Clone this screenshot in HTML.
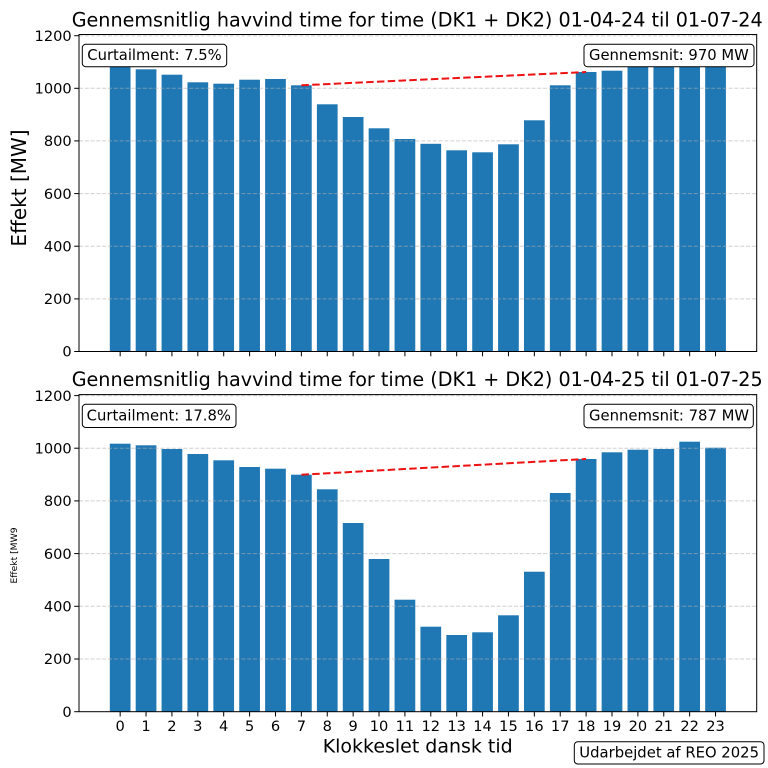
<!DOCTYPE html>
<html><head><meta charset="utf-8"><style>
html,body{margin:0;padding:0;background:#fff;}
svg{display:block;}
text{font-family:"DejaVu Sans","Liberation Sans",sans-serif;fill:#000;}
</style></head><body>
<svg width="768" height="768" viewBox="0 0 768 768" xmlns="http://www.w3.org/2000/svg">
<rect x="0" y="0" width="768" height="768" fill="#fff"/>

<!-- ===== TOP AXES ===== -->
<g fill="#1f77b4">
<rect x="109.81" y="60" width="20.71" height="291.5"/>
<rect x="135.70" y="69.3" width="20.71" height="282.2"/>
<rect x="161.58" y="74.7" width="20.71" height="276.8"/>
<rect x="187.47" y="82.3" width="20.71" height="269.2"/>
<rect x="213.35" y="83.7" width="20.71" height="267.8"/>
<rect x="239.24" y="79.7" width="20.71" height="271.8"/>
<rect x="265.13" y="79.0" width="20.71" height="272.5"/>
<rect x="291.01" y="85.3" width="20.71" height="266.2"/>
<rect x="316.90" y="104.3" width="20.71" height="247.2"/>
<rect x="342.78" y="117.0" width="20.71" height="234.5"/>
<rect x="368.67" y="128.3" width="20.71" height="223.2"/>
<rect x="394.56" y="139.0" width="20.71" height="212.5"/>
<rect x="420.44" y="143.8" width="20.71" height="207.7"/>
<rect x="446.33" y="150.3" width="20.71" height="201.2"/>
<rect x="472.21" y="152.3" width="20.71" height="199.2"/>
<rect x="498.10" y="144.3" width="20.71" height="207.2"/>
<rect x="523.99" y="120.3" width="20.71" height="231.2"/>
<rect x="549.87" y="85.3" width="20.71" height="266.2"/>
<rect x="575.76" y="72.0" width="20.71" height="279.5"/>
<rect x="601.64" y="70.7" width="20.71" height="280.8"/>
<rect x="627.53" y="60" width="20.71" height="291.5"/>
<rect x="653.42" y="60" width="20.71" height="291.5"/>
<rect x="679.30" y="60" width="20.71" height="291.5"/>
<rect x="705.19" y="60" width="20.71" height="291.5"/>
</g>
<g stroke="#b0b0b0" stroke-opacity="0.6" stroke-width="1" stroke-dasharray="4,1.8">
<line x1="79" y1="298.9" x2="756.7" y2="298.9"/>
<line x1="79" y1="246.2" x2="756.7" y2="246.2"/>
<line x1="79" y1="193.6" x2="756.7" y2="193.6"/>
<line x1="79" y1="140.9" x2="756.7" y2="140.9"/>
<line x1="79" y1="88.3" x2="756.7" y2="88.3"/>
<line x1="79" y1="35.7" x2="756.7" y2="35.7"/>
</g>
<line x1="301.4" y1="85.3" x2="586.1" y2="72.0" stroke="#ee1111" stroke-width="2" stroke-dasharray="7.5,3.3"/>
<rect x="79" y="34.5" width="677.7" height="317" fill="none" stroke="#000" stroke-width="1"/>
<!-- y ticks top -->
<g stroke="#000" stroke-width="1">
<line x1="74.2" y1="351.5" x2="79" y2="351.5"/>
<line x1="74.2" y1="298.9" x2="79" y2="298.9"/>
<line x1="74.2" y1="246.2" x2="79" y2="246.2"/>
<line x1="74.2" y1="193.6" x2="79" y2="193.6"/>
<line x1="74.2" y1="140.9" x2="79" y2="140.9"/>
<line x1="74.2" y1="88.3" x2="79" y2="88.3"/>
<line x1="74.2" y1="35.7" x2="79" y2="35.7"/>
</g>
<g font-size="14.6" text-anchor="end">
<text x="71.7" y="356.7">0</text>
<text x="71.7" y="304.1">200</text>
<text x="71.7" y="251.4">400</text>
<text x="71.7" y="198.8">600</text>
<text x="71.7" y="146.1">800</text>
<text x="71.7" y="93.5">1000</text>
<text x="71.7" y="40.9">1200</text>
</g>
<!-- x ticks top (no labels) -->
<g stroke="#000" stroke-width="1">
<line x1="120.16" y1="351.5" x2="120.16" y2="356.3"/>
<line x1="146.05" y1="351.5" x2="146.05" y2="356.3"/>
<line x1="171.93" y1="351.5" x2="171.93" y2="356.3"/>
<line x1="197.82" y1="351.5" x2="197.82" y2="356.3"/>
<line x1="223.70" y1="351.5" x2="223.70" y2="356.3"/>
<line x1="249.59" y1="351.5" x2="249.59" y2="356.3"/>
<line x1="275.48" y1="351.5" x2="275.48" y2="356.3"/>
<line x1="301.36" y1="351.5" x2="301.36" y2="356.3"/>
<line x1="327.25" y1="351.5" x2="327.25" y2="356.3"/>
<line x1="353.13" y1="351.5" x2="353.13" y2="356.3"/>
<line x1="379.02" y1="351.5" x2="379.02" y2="356.3"/>
<line x1="404.91" y1="351.5" x2="404.91" y2="356.3"/>
<line x1="430.79" y1="351.5" x2="430.79" y2="356.3"/>
<line x1="456.68" y1="351.5" x2="456.68" y2="356.3"/>
<line x1="482.56" y1="351.5" x2="482.56" y2="356.3"/>
<line x1="508.45" y1="351.5" x2="508.45" y2="356.3"/>
<line x1="534.34" y1="351.5" x2="534.34" y2="356.3"/>
<line x1="560.22" y1="351.5" x2="560.22" y2="356.3"/>
<line x1="586.11" y1="351.5" x2="586.11" y2="356.3"/>
<line x1="611.99" y1="351.5" x2="611.99" y2="356.3"/>
<line x1="637.88" y1="351.5" x2="637.88" y2="356.3"/>
<line x1="663.77" y1="351.5" x2="663.77" y2="356.3"/>
<line x1="689.65" y1="351.5" x2="689.65" y2="356.3"/>
<line x1="715.54" y1="351.5" x2="715.54" y2="356.3"/>
</g>
<!-- boxes top -->
<rect x="82.3" y="44.3" width="144.4" height="22.4" rx="3.5" fill="#fff" stroke="#000" stroke-width="1"/>
<text x="87.3" y="60" font-size="14.7" textLength="134.4" lengthAdjust="spacingAndGlyphs">Curtailment: 7.5%</text>
<rect x="584" y="44.3" width="170" height="22.4" rx="3.5" fill="#fff" stroke="#000" stroke-width="1"/>
<text x="589" y="60" font-size="14.7" textLength="159.7" lengthAdjust="spacingAndGlyphs">Gennemsnit: 970 MW</text>
<!-- title top -->
<text x="71.7" y="26.5" font-size="19.2" textLength="691" lengthAdjust="spacingAndGlyphs">Gennemsnitlig havvind time for time (DK1 + DK2) 01-04-24 til 01-07-24</text>
<text transform="translate(26,188) rotate(-90)" text-anchor="middle" font-size="20">Effekt [MW]</text>

<!-- ===== BOTTOM AXES ===== -->
<g fill="#1f77b4">
<rect x="109.81" y="443.7" width="20.71" height="268.0"/>
<rect x="135.70" y="445.3" width="20.71" height="266.4"/>
<rect x="161.58" y="449.0" width="20.71" height="262.7"/>
<rect x="187.47" y="454.0" width="20.71" height="257.7"/>
<rect x="213.35" y="460.3" width="20.71" height="251.4"/>
<rect x="239.24" y="467.0" width="20.71" height="244.7"/>
<rect x="265.13" y="468.7" width="20.71" height="243.0"/>
<rect x="291.01" y="474.7" width="20.71" height="237.0"/>
<rect x="316.90" y="489.3" width="20.71" height="222.4"/>
<rect x="342.78" y="523.0" width="20.71" height="188.7"/>
<rect x="368.67" y="559.0" width="20.71" height="152.7"/>
<rect x="394.56" y="599.7" width="20.71" height="112.0"/>
<rect x="420.44" y="626.7" width="20.71" height="85.0"/>
<rect x="446.33" y="635.0" width="20.71" height="76.7"/>
<rect x="472.21" y="632.3" width="20.71" height="79.4"/>
<rect x="498.10" y="615.3" width="20.71" height="96.4"/>
<rect x="523.99" y="571.7" width="20.71" height="140.0"/>
<rect x="549.87" y="493.0" width="20.71" height="218.7"/>
<rect x="575.76" y="459.0" width="20.71" height="252.7"/>
<rect x="601.64" y="452.3" width="20.71" height="259.4"/>
<rect x="627.53" y="449.7" width="20.71" height="262.0"/>
<rect x="653.42" y="449.0" width="20.71" height="262.7"/>
<rect x="679.30" y="441.7" width="20.71" height="270.0"/>
<rect x="705.19" y="447.7" width="20.71" height="264.0"/>
</g>
<g stroke="#b0b0b0" stroke-opacity="0.6" stroke-width="1" stroke-dasharray="4,1.8">
<line x1="79" y1="659.0" x2="756.7" y2="659.0"/>
<line x1="79" y1="606.3" x2="756.7" y2="606.3"/>
<line x1="79" y1="553.6" x2="756.7" y2="553.6"/>
<line x1="79" y1="500.9" x2="756.7" y2="500.9"/>
<line x1="79" y1="448.2" x2="756.7" y2="448.2"/>
<line x1="79" y1="395.6" x2="756.7" y2="395.6"/>
</g>
<line x1="301.4" y1="474.7" x2="586.1" y2="459.0" stroke="#ee1111" stroke-width="2" stroke-dasharray="7.5,3.3"/>
<rect x="79" y="394.6" width="677.7" height="317.1" fill="none" stroke="#000" stroke-width="1"/>
<g stroke="#000" stroke-width="1">
<line x1="74.2" y1="711.7" x2="79" y2="711.7"/>
<line x1="74.2" y1="659.0" x2="79" y2="659.0"/>
<line x1="74.2" y1="606.3" x2="79" y2="606.3"/>
<line x1="74.2" y1="553.6" x2="79" y2="553.6"/>
<line x1="74.2" y1="500.9" x2="79" y2="500.9"/>
<line x1="74.2" y1="448.2" x2="79" y2="448.2"/>
<line x1="74.2" y1="395.6" x2="79" y2="395.6"/>
</g>
<g font-size="14.6" text-anchor="end">
<text x="71.7" y="716.9">0</text>
<text x="71.7" y="664.2">200</text>
<text x="71.7" y="611.5">400</text>
<text x="71.7" y="558.8">600</text>
<text x="71.7" y="506.1">800</text>
<text x="71.7" y="453.4">1000</text>
<text x="71.7" y="400.8">1200</text>
</g>
<g stroke="#000" stroke-width="1">
<line x1="120.16" y1="711.7" x2="120.16" y2="716.5"/>
<line x1="146.05" y1="711.7" x2="146.05" y2="716.5"/>
<line x1="171.93" y1="711.7" x2="171.93" y2="716.5"/>
<line x1="197.82" y1="711.7" x2="197.82" y2="716.5"/>
<line x1="223.70" y1="711.7" x2="223.70" y2="716.5"/>
<line x1="249.59" y1="711.7" x2="249.59" y2="716.5"/>
<line x1="275.48" y1="711.7" x2="275.48" y2="716.5"/>
<line x1="301.36" y1="711.7" x2="301.36" y2="716.5"/>
<line x1="327.25" y1="711.7" x2="327.25" y2="716.5"/>
<line x1="353.13" y1="711.7" x2="353.13" y2="716.5"/>
<line x1="379.02" y1="711.7" x2="379.02" y2="716.5"/>
<line x1="404.91" y1="711.7" x2="404.91" y2="716.5"/>
<line x1="430.79" y1="711.7" x2="430.79" y2="716.5"/>
<line x1="456.68" y1="711.7" x2="456.68" y2="716.5"/>
<line x1="482.56" y1="711.7" x2="482.56" y2="716.5"/>
<line x1="508.45" y1="711.7" x2="508.45" y2="716.5"/>
<line x1="534.34" y1="711.7" x2="534.34" y2="716.5"/>
<line x1="560.22" y1="711.7" x2="560.22" y2="716.5"/>
<line x1="586.11" y1="711.7" x2="586.11" y2="716.5"/>
<line x1="611.99" y1="711.7" x2="611.99" y2="716.5"/>
<line x1="637.88" y1="711.7" x2="637.88" y2="716.5"/>
<line x1="663.77" y1="711.7" x2="663.77" y2="716.5"/>
<line x1="689.65" y1="711.7" x2="689.65" y2="716.5"/>
<line x1="715.54" y1="711.7" x2="715.54" y2="716.5"/>
</g>
<g font-size="14.6" text-anchor="middle">
<text x="120.16" y="731">0</text>
<text x="146.05" y="731">1</text>
<text x="171.93" y="731">2</text>
<text x="197.82" y="731">3</text>
<text x="223.70" y="731">4</text>
<text x="249.59" y="731">5</text>
<text x="275.48" y="731">6</text>
<text x="301.36" y="731">7</text>
<text x="327.25" y="731">8</text>
<text x="353.13" y="731">9</text>
<text x="379.02" y="731">10</text>
<text x="404.91" y="731">11</text>
<text x="430.79" y="731">12</text>
<text x="456.68" y="731">13</text>
<text x="482.56" y="731">14</text>
<text x="508.45" y="731">15</text>
<text x="534.34" y="731">16</text>
<text x="560.22" y="731">17</text>
<text x="586.11" y="731">18</text>
<text x="611.99" y="731">19</text>
<text x="637.88" y="731">20</text>
<text x="663.77" y="731">21</text>
<text x="689.65" y="731">22</text>
<text x="715.54" y="731">23</text>
</g>
<rect x="82.3" y="404.3" width="153.7" height="23.2" rx="3.5" fill="#fff" stroke="#000" stroke-width="1"/>
<text x="86.7" y="420.5" font-size="14.7" textLength="144.3" lengthAdjust="spacingAndGlyphs">Curtailment: 17.8%</text>
<rect x="584" y="404.3" width="169.3" height="23.4" rx="3.5" fill="#fff" stroke="#000" stroke-width="1"/>
<text x="589" y="420.5" font-size="14.7" textLength="160" lengthAdjust="spacingAndGlyphs">Gennemsnit: 787 MW</text>
<text x="71.7" y="386" font-size="19.2" textLength="691" lengthAdjust="spacingAndGlyphs">Gennemsnitlig havvind time for time (DK1 + DK2) 01-04-25 til 01-07-25</text>
<text transform="translate(17,555.5) rotate(-90)" text-anchor="middle" font-size="9.2">Effekt [MW9</text>
<text x="417.7" y="752.7" font-size="19" text-anchor="middle" textLength="190" lengthAdjust="spacingAndGlyphs">Klokkeslet dansk tid</text>

<!-- footer -->
<rect x="574.3" y="741.7" width="189.7" height="22.3" rx="3.5" fill="#fff" stroke="#000" stroke-width="1"/>
<text x="579.3" y="757.3" font-size="14.7" textLength="179.7" lengthAdjust="spacingAndGlyphs">Udarbejdet af REO 2025</text>
</svg>
</body></html>
